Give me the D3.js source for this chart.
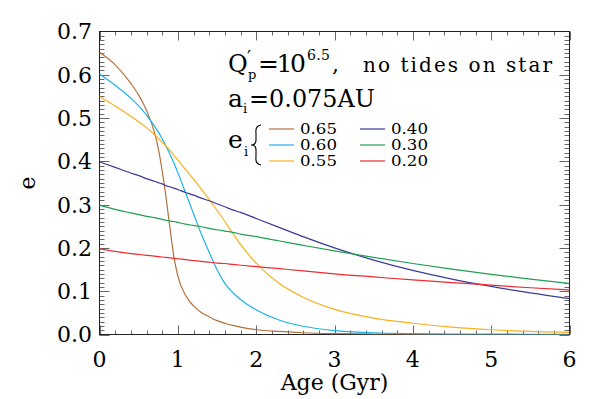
<!DOCTYPE html>
<html>
<head>
<meta charset="utf-8">
<script src="https://cdn.jsdelivr.net/npm/d3@7"></script>
<style>
  body { margin: 0; background: #ffffff; }
  svg { display: block; }
</style>
</head>
<body>
<div id="chart-container"></div>
<script>
// ages (Gyr) shared by every curve
const ages = [0, 0.2, 0.4, 0.5, 0.6, 0.7, 0.75, 0.8, 0.85, 0.9, 0.95, 1.0, 1.1, 1.2, 1.3, 1.4, 1.5, 1.6, 1.7, 1.8, 2.0, 2.3, 2.6, 3.0, 3.5, 4.0, 4.5, 5.0, 5.5, 6.0];

// eccentricity for each initial e_i
const e065 = [0.652, 0.623, 0.580, 0.553, 0.518, 0.468, 0.430, 0.378, 0.316, 0.245, 0.180, 0.135, 0.090, 0.066, 0.051, 0.041, 0.032, 0.026, 0.021, 0.017, 0.011, 0.007, 0.004, 0.002, 0.001, 0.0005, 0, 0, 0, 0];
const e060 = [0.602, 0.576, 0.546, 0.528, 0.507, 0.482, 0.468, 0.452, 0.435, 0.416, 0.396, 0.374, 0.327, 0.279, 0.232, 0.190, 0.150, 0.118, 0.097, 0.081, 0.057, 0.033, 0.019, 0.009, 0.004, 0.002, 0.001, 0.001, 0.0005, 0.0005];
const e055 = [0.550, 0.528, 0.504, 0.491, 0.478, 0.462, 0.453, 0.444, 0.435, 0.425, 0.414, 0.403, 0.381, 0.359, 0.336, 0.312, 0.287, 0.261, 0.234, 0.208, 0.165, 0.117, 0.086, 0.058, 0.038, 0.026, 0.017, 0.011, 0.007, 0.005];
const e040 = [0.399, 0.386, 0.373, 0.367, 0.360, 0.354, 0.351, 0.348, 0.344, 0.341, 0.338, 0.335, 0.328, 0.322, 0.315, 0.309, 0.302, 0.295, 0.288, 0.282, 0.268, 0.247, 0.226, 0.200, 0.172, 0.148, 0.128, 0.111, 0.096, 0.083];
const e030 = [0.299, 0.289, 0.281, 0.277, 0.273, 0.270, 0.268, 0.266, 0.264, 0.262, 0.261, 0.259, 0.255, 0.252, 0.249, 0.245, 0.242, 0.239, 0.236, 0.232, 0.226, 0.216, 0.206, 0.193, 0.178, 0.164, 0.151, 0.139, 0.128, 0.118];
const e020 = [0.198, 0.192, 0.187, 0.185, 0.183, 0.181, 0.180, 0.179, 0.178, 0.177, 0.176, 0.175, 0.173, 0.171, 0.169, 0.167, 0.165, 0.164, 0.162, 0.160, 0.157, 0.152, 0.147, 0.140, 0.133, 0.126, 0.120, 0.114, 0.108, 0.103];

const seriesLabels = ["0.65", "0.60", "0.55", "0.40", "0.30", "0.20"];
const seriesValues = [e065, e060, e055, e040, e030, e020];
const seriesColors = ["#b5703d", "#1cb2ea", "#f7b01e", "#3b3b98", "#1f9f52", "#ef2b30"];

const xTicks = [0, 1, 2, 3, 4, 5, 6];
const yTicks = [0.0, 0.1, 0.2, 0.3, 0.4, 0.5, 0.6, 0.7];

const width = 599, height = 399;
const margin = { top: 31.5, right: 29.5, bottom: 64.5, left: 99.5 };
const font = "'DejaVu Serif', serif";

const svg = d3.select("#chart-container")
  .append("svg")
  .attr("width", width)
  .attr("height", height);

const x = d3.scaleLinear().domain([0, 6]).range([margin.left, width - margin.right]);
const y = d3.scaleLinear().domain([0, 0.7]).range([height - margin.bottom, margin.top]);

svg.append("defs").append("clipPath").attr("id", "plot-clip")
  .append("rect")
  .attr("x", margin.left).attr("y", margin.top)
  .attr("width", x(6) - x(0)).attr("height", y(0) - y(0.7));

// ticks, all pointing into the plot, drawn as thin filled rects
const xMinor = d3.range(0, 31).map((i) => i * 0.2);
const yMinor = d3.range(0, 71).map((i) => i * 0.01);
const xTickLen = (i) => (i % 5 === 0 ? 9 : 4);
const yTickLen = (i) => (i % 10 === 0 ? 10 : 5);

const tickG = svg.append("g").attr("fill", "#666666");
tickG.selectAll(".xb")
  .data(xMinor)
  .enter()
  .append("rect")
  .attr("class", "xb")
  .attr("x", (d) => Math.round(x(d)))
  .attr("y", (d, i) => y(0) - xTickLen(i))
  .attr("width", 1)
  .attr("height", (d, i) => xTickLen(i));
tickG.selectAll(".xt")
  .data(xMinor)
  .enter()
  .append("rect")
  .attr("class", "xt")
  .attr("x", (d) => Math.round(x(d)))
  .attr("y", y(0.7))
  .attr("width", 1)
  .attr("height", (d, i) => xTickLen(i));
tickG.selectAll(".yl")
  .data(yMinor)
  .enter()
  .append("rect")
  .attr("class", "yl")
  .attr("x", x(0))
  .attr("y", (d) => Math.round(y(d)))
  .attr("width", (d, i) => yTickLen(i))
  .attr("height", 1);
tickG.selectAll(".yr")
  .data(yMinor)
  .enter()
  .append("rect")
  .attr("class", "yr")
  .attr("x", (d, i) => x(6) - yTickLen(i))
  .attr("y", (d) => Math.round(y(d)))
  .attr("width", (d, i) => yTickLen(i))
  .attr("height", 1);

// tick labels
svg.append("g").selectAll("text")
  .data(xTicks)
  .enter()
  .append("text")
  .attr("x", (d) => x(d)).attr("y", 367)
  .attr("text-anchor", "middle")
  .style("font-family", font).style("font-size", "22px")
  .text((d) => d);

svg.append("g").selectAll("text")
  .data(yTicks)
  .enter()
  .append("text")
  .attr("x", 92).attr("y", (d) => y(d)).attr("dy", "0.36em")
  .attr("text-anchor", "end")
  .style("font-family", font).style("font-size", "22px")
  .text((d) => d3.format(".1f")(d));

// frame
svg.append("rect")
  .attr("x", x(0)).attr("y", y(0.7))
  .attr("width", x(6) - x(0)).attr("height", y(0) - y(0.7))
  .attr("fill", "none").style("stroke", "#222").style("stroke-width", "1px");

// curves
const line = d3.line()
  .x((d, i) => x(ages[i]))
  .y((d) => y(d))
  .curve(d3.curveMonotoneX);

svg.append("g").attr("clip-path", "url(#plot-clip)")
  .selectAll("path")
  .data(seriesValues)
  .enter()
  .append("path")
  .attr("d", (d) => line(d))
  .attr("fill", "none")
  .attr("stroke", (d, i) => seriesColors[i])
  .attr("stroke-width", 1.2);

// axis titles
svg.append("text")
  .attr("x", (x(0) + x(6)) / 2).attr("y", 390)
  .attr("text-anchor", "middle")
  .style("font-family", font).style("font-size", "22px")
  .text("Age (Gyr)");

svg.append("text")
  .attr("transform", "translate(35,183) rotate(-90)")
  .attr("text-anchor", "middle")
  .style("font-family", font).style("font-size", "22px")
  .text("e");

// annotation block
const note = svg.append("g").style("font-family", font).attr("fill", "#000");
note.append("text").attr("x", 228).attr("y", 72).style("font-size", "24px").text("Q");
note.append("text").attr("x", 247).attr("y", 64).style("font-size", "18px").text("\u2032");
note.append("text").attr("x", 248).attr("y", 79).style("font-size", "13px").text("p");
note.append("text").attr("x", 258).attr("y", 72).style("font-size", "25px")
  .attr("textLength", 48).attr("lengthAdjust", "spacing").text("=10");
note.append("text").attr("x", 307).attr("y", 60).style("font-size", "14px")
  .attr("textLength", 23).attr("lengthAdjust", "spacing").text("6.5");
note.append("text").attr("x", 332).attr("y", 72).style("font-size", "22px").text(",");
note.append("text").attr("x", 363).attr("y", 72).style("font-size", "20px")
  .attr("textLength", 189).attr("lengthAdjust", "spacing").text("no tides on star");

note.append("text").attr("x", 228).attr("y", 107).style("font-size", "25px").text("a");
note.append("text").attr("x", 243).attr("y", 113).style("font-size", "13px").text("i");
note.append("text").attr("x", 249).attr("y", 107).style("font-size", "24px")
  .attr("textLength", 126).attr("lengthAdjust", "spacingAndGlyphs").text("=0.075AU");

note.append("text").attr("x", 228).attr("y", 148).style("font-size", "25px").text("e");
note.append("text").attr("x", 244).attr("y", 156).style("font-size", "13px").text("i");

// brace
note.append("path")
  .attr("d", "M261,125 Q255,126 256,133 L256,140 Q256,145 251,145 Q256,145 256,150 L256,157 Q255,164 261,165")
  .attr("fill", "none").style("stroke", "#000").style("stroke-width", "1.1px");

// legend (two columns of three)
const legendCols = [269, 360];
const legendRows = [129, 145, 161];
const legend = svg.append("g")
  .selectAll("g")
  .data(seriesLabels)
  .enter()
  .append("g")
  .attr("transform", (d, i) => `translate(${legendCols[Math.floor(i / 3)]},${legendRows[i % 3]})`);
legend.append("line")
  .attr("x1", 0).attr("x2", 25).attr("y1", 0).attr("y2", 0)
  .attr("stroke", (d, i) => seriesColors[i]).attr("stroke-width", 1.2);
legend.append("text")
  .attr("x", 31).attr("y", 0).attr("dy", "0.36em")
  .style("font-family", font).style("font-size", "14px")
  .attr("textLength", 37).attr("lengthAdjust", "spacingAndGlyphs")
  .text((d) => d);
</script>
</body>
</html>
